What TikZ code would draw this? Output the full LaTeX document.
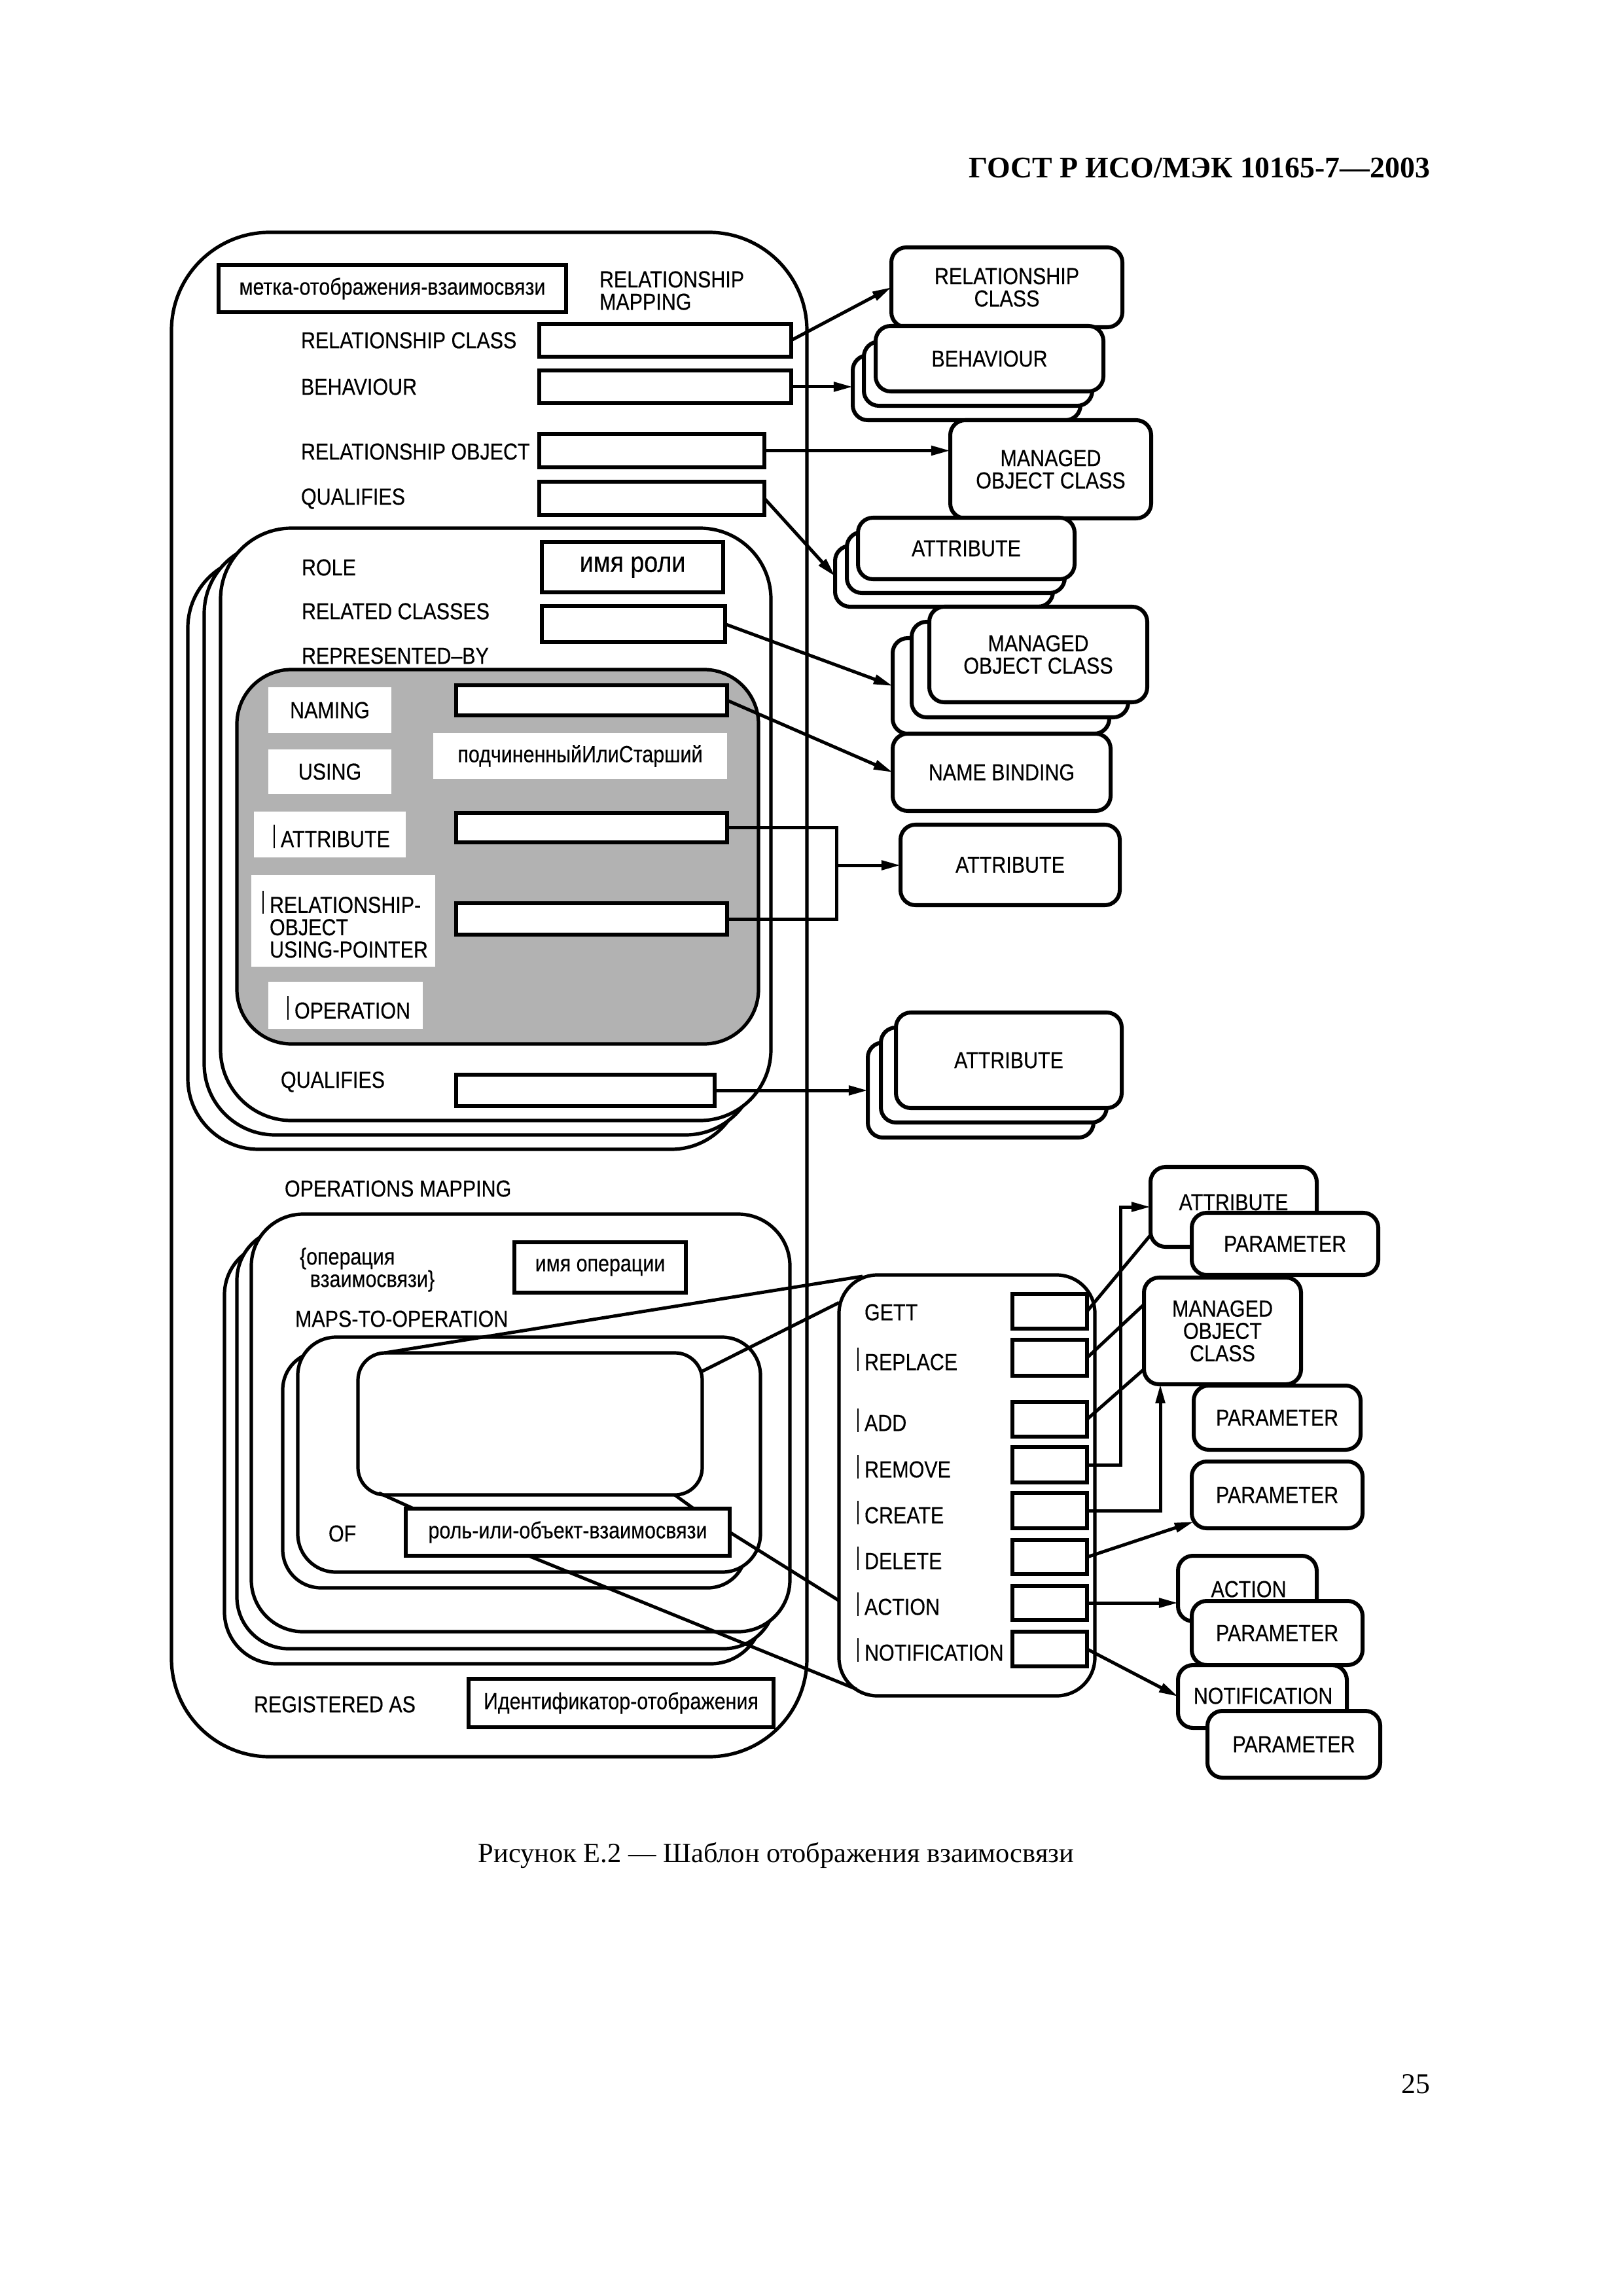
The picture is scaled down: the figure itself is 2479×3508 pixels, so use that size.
\documentclass[tikz,border=0pt]{standalone}
\usepackage{fontspec}
\setmainfont{Liberation Sans}[FakeStretch=0.86,FakeBold=0.35]
\newfontfamily\serifcap{Liberation Serif}
\usetikzlibrary{arrows.meta,calc}
\newcommand\lbl{\fontsize{8.5pt}{8.2pt}\selectfont}
\newcommand\chbar{\llap{\rule[-0.4pt]{0.5pt}{8.6pt}\hspace{2.2pt}}}
\newcommand\bx[7]{\node[#1, minimum width={(#5-#3)*0.2401pt}, minimum height={(#6-#4)*0.2401pt}] (#2) at ({(#3+#5)/2},{(#4+#6)/2}) {#7};}
\begin{document}
\begin{tikzpicture}[x=0.2401pt, y=-0.2401pt,
  big/.style={draw, line width=1.25pt, fill=white, outer sep=0pt, inner sep=0pt},
  slot/.style={draw, line width=1.45pt, fill=white, outer sep=0pt, inner sep=0pt, font=\lbl},
  rbox/.style={draw, line width=1.45pt, rounded corners=5.5pt, fill=white, outer sep=0pt, inner sep=0pt, align=center, font=\lbl},
  wbox/.style={fill=white, outer sep=0pt, inner sep=0pt, font=\lbl},
  lab/.style={anchor=west, inner sep=0pt, outer sep=0pt, font=\lbl, align=left},
  txt/.style={inner sep=0pt, outer sep=0pt, font=\lbl},
  conn/.style={line width=1.2pt},
  arr/.style={conn, -{Triangle[length=7pt,width=3.4pt]}}]
\fill[white] (0,0) rectangle (2479,3508);
\useasboundingbox (0,0) rectangle (2479,3508);
% header, caption, page number
\node[anchor=east, inner sep=0pt, font=\serifcap\bfseries\fontsize{11pt}{13pt}\selectfont] (hdr) at (2186,257) {ГОСТ Р ИСО/МЭК 10165-7—2003};
\node[inner sep=0pt, font=\serifcap\fontsize{10.2pt}{12pt}\selectfont] (cap) at (1186,2835) {Рисунок Е.2 — Шаблон отображения взаимосвязи};
\node[anchor=east, inner sep=0pt, font=\serifcap\fontsize{10.5pt}{12pt}\selectfont] (pg) at (2186,3184) {25};
% outer box
\bx{big, rounded corners=36pt}{outer}{262}{355}{1233}{2684}{}
% top section
\bx{slot}{metka}{334}{405}{865}{477}{метка-отображения-взаимосвязи}
\node[lab] (rmap) at (916,444) {RELATIONSHIP\\MAPPING};
\node[lab] (lrc) at (460,520) {RELATIONSHIP CLASS};
\node[lab] (lbeh) at (460,591) {BEHAVIOUR};
\node[lab] (lro) at (460,690) {RELATIONSHIP OBJECT};
\node[lab] (lq) at (460,762) {QUALIFIES};
\bx{slot}{src}{824}{495}{1209}{545}{}
\bx{slot}{sbeh}{824}{566}{1209}{616}{}
\bx{slot}{sro}{824}{663}{1168}{714}{}
\bx{slot}{sq}{824}{736}{1168}{787}{}
% right boxes, top
\bx{rbox}{rcb}{1362}{378}{1715}{500}{RELATIONSHIP\\CLASS}
\bx{rbox}{beh3}{1303}{543}{1651}{642}{}
\bx{rbox}{beh2}{1320}{522}{1669}{620}{}
\bx{rbox}{beh1}{1338}{498}{1686}{598}{BEHAVIOUR}
\bx{rbox}{moc1}{1452}{642}{1759}{792}{MANAGED\\OBJECT CLASS}
\bx{rbox}{at3}{1276}{834}{1609}{927}{}
\bx{rbox}{at2}{1294}{813}{1627}{906}{}
\bx{rbox}{at1}{1311}{791}{1642}{885}{ATTRIBUTE}
\bx{rbox}{mc3}{1364}{975}{1695}{1121}{}
\bx{rbox}{mc2}{1393}{950}{1724}{1096}{}
\bx{rbox}{mc1}{1420}{927}{1753}{1073}{MANAGED\\OBJECT CLASS}
\bx{rbox}{nb}{1364}{1121}{1697}{1239}{NAME BINDING}
\bx{rbox}{at4}{1376}{1260}{1711}{1383}{ATTRIBUTE}
\bx{rbox}{aa3}{1326}{1593}{1671}{1738}{}
\bx{rbox}{aa2}{1346}{1570}{1691}{1715}{}
\bx{rbox}{aa1}{1369}{1547}{1714}{1693}{ATTRIBUTE}
% role stack
\bx{big, rounded corners=26pt}{role3}{287}{851}{1134}{1756}{}
\bx{big, rounded corners=26pt}{role2}{312}{829}{1156}{1734}{}
\bx{big, rounded corners=26pt}{role1}{337}{807}{1178}{1712}{}
\node[lab] (lrole) at (461,867) {ROLE};
\bx{slot, font=\fontsize{10.5pt}{11pt}\selectfont}{imr}{828}{828}{1105}{905}{имя роли}
\node[lab] (lrel) at (461,934) {RELATED CLASSES};
\bx{slot}{srel}{828}{926}{1108}{981}{}
\node[lab] (lrep) at (461,1002) {REPRESENTED–BY};
\bx{big, fill=black!30, rounded corners=20pt}{gray}{362}{1023}{1159}{1595}{}
\bx{wbox}{wnam}{410}{1050}{598}{1120}{NAMING}
\bx{wbox}{wus}{410}{1145}{598}{1213}{USING}
\bx{wbox}{wsub}{662}{1120}{1111}{1190}{подчиненныйИлиСтарший}
\bx{wbox}{watt}{388}{1240}{620}{1310}{}
\bx{wbox}{wrop}{384}{1337}{665}{1477}{}
\bx{wbox}{wop}{410}{1500}{646}{1572}{}
\node[lab] (latt) at (429,1278) {\chbar ATTRIBUTE};
\node[lab] (lrop) at (412,1412) {\chbar RELATIONSHIP-\\OBJECT\\USING-POINTER};
\node[lab] (lop) at (450,1540) {\chbar OPERATION};
\bx{slot}{snam}{697}{1047}{1111}{1093}{}
\bx{slot}{satt}{697}{1242}{1111}{1287}{}
\bx{slot}{srop}{697}{1380}{1111}{1428}{}
\node[lab] (lq2) at (429,1653) {QUALIFIES};
\bx{slot}{sq2}{697}{1642}{1092}{1690}{}
% operations mapping
\node[lab] (lopm) at (435,1816) {OPERATIONS MAPPING};
\bx{big, rounded corners=19pt}{ops3}{343}{1899}{1165}{2542}{}
\bx{big, rounded corners=19pt}{ops2}{362}{1877}{1185}{2519}{}
\bx{big, rounded corners=19pt}{ops1}{384}{1855}{1207}{2493}{}
\node[lab] (lopv) at (458,1940) {\{операция\\\hspace*{3.8pt}взаимосвязи\}};
\bx{slot}{imo}{786}{1898}{1048}{1975}{имя операции}
\node[lab] (lmto) at (451,2015) {MAPS-TO-OPERATION};
\bx{big, rounded corners=14pt}{in2}{432}{2065}{1140}{2426}{}
\bx{big, rounded corners=14pt}{in1}{455}{2043}{1162}{2402}{}
\bx{big, rounded corners=10pt}{blank}{547}{2067}{1073}{2284}{}
\node[lab] (lof) at (502,2343) {OF};
\bx{slot}{rolobj}{620}{2305}{1115}{2377}{роль-или-объект-взаимосвязи}
\node[lab] (lreg) at (388,2604) {REGISTERED AS};
\bx{slot}{ident}{716}{2565}{1182}{2639}{Идентификатор-отображения}
% operation list
\bx{big, rounded corners=14pt}{opl}{1282}{1948}{1673}{2591}{}
\node[lab] (lget) at (1321,2005) {GETT};
\node[lab] (lrepl) at (1321,2077) {\chbar REPLACE};
\node[lab] (ladd) at (1321,2170) {\chbar ADD};
\node[lab] (lrem) at (1321,2241) {\chbar REMOVE};
\node[lab] (lcre) at (1321,2311) {\chbar CREATE};
\node[lab] (ldel) at (1321,2381) {\chbar DELETE};
\node[lab] (lact) at (1321,2451) {\chbar ACTION};
\node[lab] (lnot) at (1321,2521) {\chbar NOTIFICATION};
\bx{slot}{sget}{1547}{1977}{1661}{2030}{}
\bx{slot}{srep}{1547}{2047}{1661}{2102}{}
\bx{slot}{sadd}{1547}{2142}{1661}{2195}{}
\bx{slot}{srem}{1547}{2211}{1661}{2265}{}
\bx{slot}{scre}{1547}{2281}{1661}{2335}{}
\bx{slot}{sdel}{1547}{2353}{1661}{2405}{}
\bx{slot}{sact}{1547}{2423}{1661}{2475}{}
\bx{slot}{snot}{1547}{2493}{1661}{2546}{}
% right boxes, operations
\bx{rbox}{oattr}{1758}{1783}{2012}{1905}{}
\node[txt] (oattrT) at (1885,1837) {ATTRIBUTE};
\bx{rbox}{opar1}{1821}{1853}{2106}{1948}{PARAMETER}
\bx{rbox}{omoc}{1748}{1952}{1988}{2115}{MANAGED\\OBJECT\\CLASS}
\bx{rbox}{opar2}{1824}{2117}{2079}{2215}{PARAMETER}
\bx{rbox}{opar3}{1821}{2233}{2082}{2335}{PARAMETER}
\bx{rbox}{oact}{1800}{2377}{2012}{2477}{}
\node[txt] (oactT) at (1908,2428) {ACTION};
\bx{rbox}{opar4}{1821}{2446}{2082}{2544}{PARAMETER}
\bx{rbox}{onot}{1800}{2544}{2058}{2640}{}
\node[txt] (onotT) at (1930,2591) {NOTIFICATION};
\bx{rbox}{opar5}{1845}{2614}{2109}{2716}{PARAMETER}
% connectors, top
\draw[arr] (src.east) -- (rcb.west);
\draw[arr] (sbeh.east) -- (sbeh.east -| beh3.west);
\draw[arr] (sro.east) -- (sro.east -| moc1.west);
\draw[arr] (sq.east) -- (at3.west);
\draw[arr] (srel.east) -- (mc3.west);
\draw[arr] (snam.east) -- (nb.west);
\coordinate (brk) at (1278,1322);
\draw[conn] (satt.east) -| (brk) |- (srop.east);
\draw[arr] (brk) -- (brk -| at4.west);
\draw[arr] (sq2.east) -- (sq2.east -| aa3.west);
% connectors, operations
\draw[conn] (blank.154.8) -- ($(opl.north west)+(36,2)$);
\draw[conn] (blank.17.4) -- (opl.125.8);
\draw[conn] (blank.south west) ++(32,-3) -- ($(rolobj.north west)+(12,0)$);
\draw[conn] ($(blank.south east)+(-42,0)$) -- ($(rolobj.north east)+(-55,0)$);
\draw[conn] (rolobj.east) -- (opl.222.1);
\draw[conn] (rolobj.211.2) -- ($(opl.south west)+(27,-10)$);
\draw[conn] (sget.east) -- ($(oattr.south west)+(0,-18)$);
\draw[conn] (srep.east) -- ($(omoc.west)+(0,-40.5)$);
\draw[conn] (sadd.east) -- ($(omoc.west)+(0,58.5)$);
\draw[arr] (srem.east) -| ($(oattr.west)+(-46,0)$) -- (oattr.west);
\draw[arr] (scre.east) -| ($(omoc.south west)+(25,0)$);
\draw[arr] (sdel.east) -- ($(opar3.south west)+(3,-10)$);
\draw[arr] (sact.east) -- (sact.east -| oact.west);
\draw[arr] (snot.east) -- (onot.west);
\end{tikzpicture}
\end{document}
